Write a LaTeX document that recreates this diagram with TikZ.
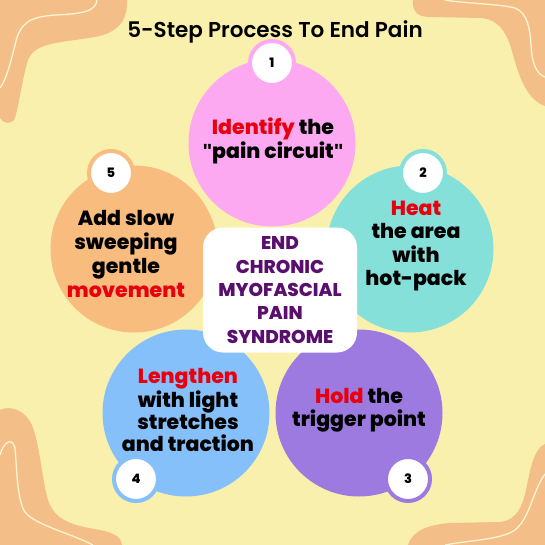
\documentclass[tikz,border=0pt]{standalone}
\usepackage{fontspec}
\setmainfont{Poppins}[BoldFont={Poppins ExtraBold}]
\newfontfamily\titlefont{Poppins SemiBold}
\newfontfamily\quotefont{Liberation Sans}
\definecolor{paper}{HTML}{FAF0AE}
\definecolor{swoosh}{HTML}{F4BE89}
\definecolor{swooshline}{HTML}{FFF6CF}
\definecolor{pinkstep}{HTML}{FCA9F2}
\definecolor{tealstep}{HTML}{86E0DA}
\definecolor{orangestep}{HTML}{F8BC7E}
\definecolor{bluestep}{HTML}{85C0FA}
\definecolor{purplestep}{HTML}{9C7AE0}
\definecolor{keyword}{HTML}{E8000E}
\definecolor{endpurple}{HTML}{5A0F6E}
\newcommand{\straightquote}{{\quotefont\bfseries\symbol{34}}}

\begin{document}
\begin{tikzpicture}[x=1pt,y=-1pt,
  stepcircle/.style={circle,inner sep=0pt,minimum size=167pt},
  steptext/.style={align=center,inner sep=0pt,font=\fontsize{20.5}{23.5}\selectfont\bfseries},
  badge/.style={circle,fill=white,line width=4pt,inner sep=0pt,minimum size=44pt,font=\fontsize{13}{15}\selectfont\bfseries}]
\path[use as bounding box,fill=paper] (0,0) rectangle (545,545);
% corner swooshes
\fill[swoosh] (0,0) -- (127,0) .. controls (128,20) and (118,33) .. (95,37) .. controls (60,43) and (35,42) .. (28,60) .. controls (22,80) and (20,100) .. (15,118) .. controls (12,125) and (3,124) .. (0,118) -- cycle;
\draw[swooshline,line width=1.3pt] (97,0) .. controls (96,12) and (80,14) .. (55,15) .. controls (30,17) and (20,22) .. (15,45) .. controls (10,65) and (6,80) .. (0,88);
\fill[swoosh] (413,0) .. controls (412,12) and (418,17) .. (430,17) -- (480,18) .. controls (500,19) and (508,35) .. (513,55) .. controls (520,80) and (528,100) .. (545,106) -- (545,0) -- cycle;
\draw[swooshline,line width=1.3pt] (445,0) .. controls (460,3) and (500,4) .. (515,8) .. controls (528,13) and (530,30) .. (531,45) .. controls (532,65) and (537,74) .. (545,77);
\fill[swoosh] (0,410) .. controls (10,405) and (25,410) .. (32,425) .. controls (40,445) and (42,480) .. (48,500) .. controls (55,520) and (70,525) .. (100,530) .. controls (115,533) and (122,538) .. (122,545) -- (0,545) -- cycle;
\draw[swooshline,line width=1.3pt] (0,455) .. controls (3,443) and (12,436) .. (15,448) .. controls (17,470) and (17,500) .. (25,512) .. controls (35,525) and (70,533) .. (93,545);
\fill[swoosh] (408,545) .. controls (412,532) and (425,525) .. (450,523) -- (500,522) .. controls (518,520) and (523,505) .. (527,485) .. controls (531,465) and (535,448) .. (545,444) -- (545,545) -- cycle;
\draw[swooshline,line width=1.3pt] (445,545) .. controls (470,540) and (500,540) .. (515,530) .. controls (530,518) and (533,490) .. (545,474);
% title
\node[inner sep=0pt,font=\titlefont\fontsize{21.5}{26}\selectfont] (title) at (275,32) {5-Step Process To End Pain};
% five steps
\node[stepcircle,fill=pinkstep] (identify) at (272,143) {};
\node[stepcircle,fill=tealstep] (heat) at (410,249) {};
\node[stepcircle,fill=purplestep] (hold) at (359,413) {};
\node[stepcircle,fill=bluestep] (lengthen) at (186,413) {};
\node[stepcircle,fill=orangestep] (movement) at (134,249) {};
\node[steptext] (identifytext) at (273,141) {\textcolor{keyword}{Identify} the\\\straightquote pain circuit\straightquote};
\node[steptext] (heattext) at (416,246) {\textcolor{keyword}{Heat}\\the area\\with\\hot-pack};
\node[steptext] (holdtext) at (359,410) {\textcolor{keyword}{Hold} the\\trigger point};
\node[steptext,font=\fontsize{20.5}{22}\selectfont\bfseries] (lengthentext) at (188,410) {\textcolor{keyword}{Lengthen}\\with light\\stretches\\and traction};
\node[steptext,font=\fontsize{20.5}{24.3}\selectfont\bfseries] (movementtext) at (126,254) {Add slow\\sweeping\\gentle\\\textcolor{keyword}{movement}};
% badges
\node[badge,draw=pinkstep] (badge1) at (272,63) {1};
\node[badge,draw=tealstep] (badge2) at (423,173) {2};
\node[badge,draw=purplestep] (badge3) at (408,479) {3};
\node[badge,draw=bluestep] (badge4) at (136,479) {4};
\node[badge,draw=orangestep] (badge5) at (111,173) {5};
% centre box
\node[fill=white,rounded corners=20pt,minimum width=154pt,minimum height=125pt,inner sep=0pt,align=center,text=endpurple,font=\fontsize{18.5}{23.3}\selectfont\bfseries] (endbox) at (280,290) {END\\CHRONIC\\MYOFASCIAL\\PAIN\\SYNDROME};
\end{tikzpicture}
\end{document}
